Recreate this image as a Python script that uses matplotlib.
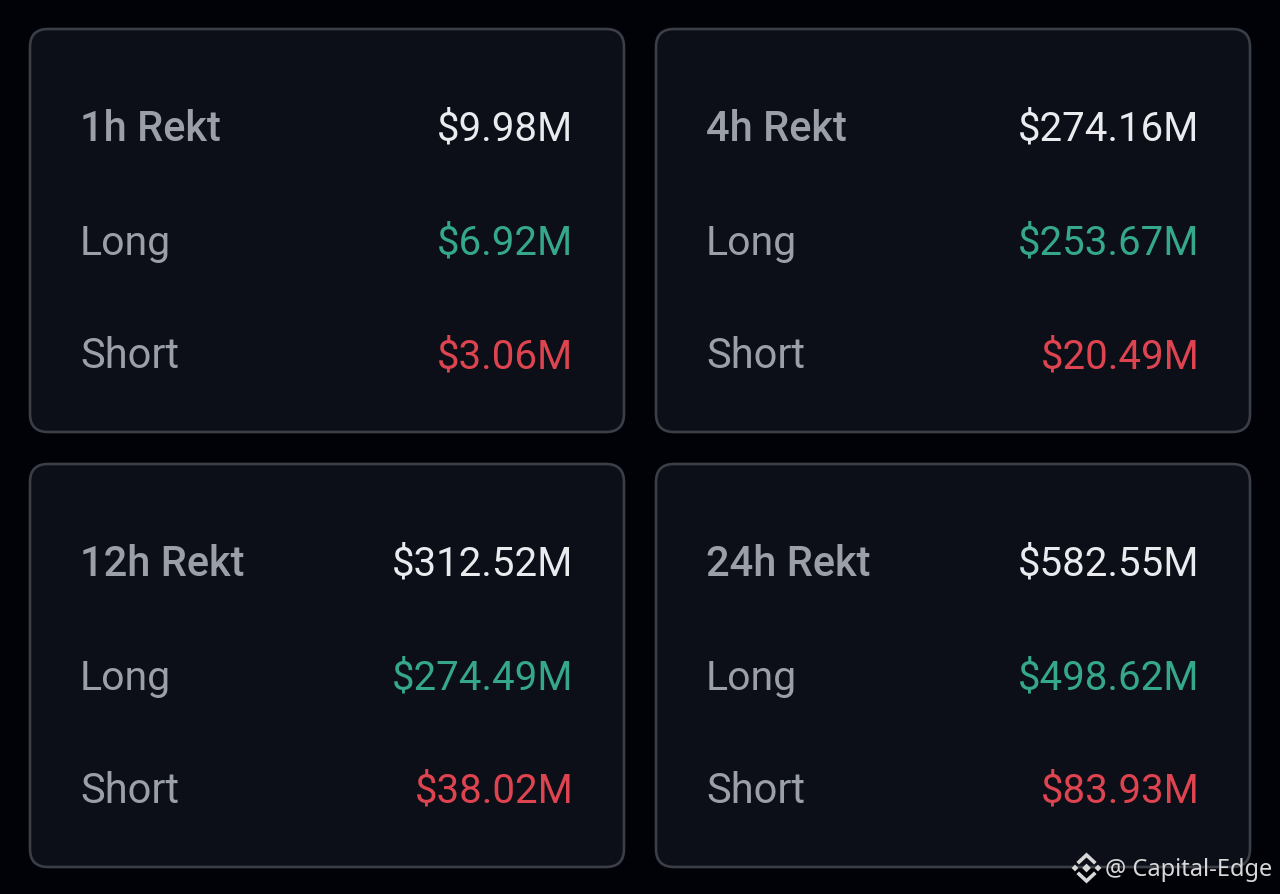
import matplotlib
matplotlib.use('Agg')
import matplotlib.pyplot as plt
from matplotlib.patches import FancyBboxPatch

# values
periods = ['1h Rekt', '4h Rekt', '12h Rekt', '24h Rekt']
totals = ['$9.98M', '$274.16M', '$312.52M', '$582.55M']
longs = ['$6.92M', '$253.67M', '$274.49M', '$498.62M']
shorts = ['$3.06M', '$20.49M', '$38.02M', '$83.93M']
row_names = ['Long', 'Short']
watermark = '@ Capital-Edge'

BG = '#010208'
CARD = '#0c0f17'
EDGE = '#3a3e46'
GREY = '#9a9fa8'
WHITE = '#e9ebee'
GREEN = '#35a88c'
RED = '#de4450'
FONT = 'Roboto'

fig = plt.figure(figsize=(12.8, 8.95), dpi=100, facecolor=BG)
ax = fig.add_axes([0, 0, 1, 1])
ax.set_xlim(0, 1280)
ax.set_ylim(895, 0)
ax.axis('off')

card_x = [30, 656]
card_y = [30, 465]
card_w = 594
card_h = 403
row_base = [110.5, 224.5, 338]

for i in range(4):
    x0 = card_x[i % 2]
    y0 = card_y[i // 2]
    ax.add_patch(FancyBboxPatch((x0 + 18, y0 + 18), card_w - 36, card_h - 36,
                                boxstyle='round,pad=18,rounding_size=18',
                                fc=CARD, ec=EDGE, lw=1.9))
    left = x0 + 50
    right = x0 + 543.5
    ax.text(left, y0 + row_base[0], periods[i], color=GREY, fontsize=30, fontweight='medium',
            family=FONT, va='baseline', ha='left')
    ax.text(right, y0 + row_base[0], totals[i], color=WHITE, fontsize=29,
            family=FONT, va='baseline', ha='right')
    ax.text(left, y0 + row_base[1], row_names[0], color=GREY, fontsize=29.5,
            family=FONT, va='baseline', ha='left')
    ax.text(right, y0 + row_base[1], longs[i], color=GREEN, fontsize=29,
            family=FONT, va='baseline', ha='right')
    ax.text(left, y0 + row_base[2], row_names[1], color=GREY, fontsize=30,
            family=FONT, va='baseline', ha='left')
    ax.text(right, y0 + row_base[2], shorts[i], color=RED, fontsize=29,
            family=FONT, va='baseline', ha='right')

# watermark logo
lc = '#d8d8d8'
ax.scatter([1075, 1098, 1086.5], [869, 869, 869], marker='D', s=[12, 12, 20], color=lc, lw=0, zorder=5)
ax.plot([1079, 1086.5, 1094], [863, 856, 863], color=lc, lw=2.6, solid_joinstyle='miter', zorder=5)
ax.plot([1079, 1086.5, 1094], [875, 882, 875], color=lc, lw=2.6, solid_joinstyle='miter', zorder=5)
ax.text(1105, 870, watermark, color=lc, fontsize=17, family='Noto Sans',
        va='center', ha='left', zorder=5)

fig.savefig('out.png', dpi=100, facecolor=BG)
